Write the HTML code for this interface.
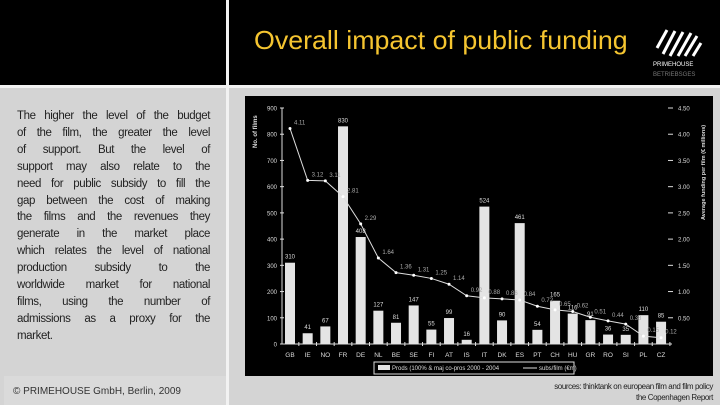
<!DOCTYPE html>
<html><head><meta charset="utf-8"><style>
body{margin:0;width:720px;height:405px;background:#d4d4d4;position:relative;overflow:hidden;font-family:"Liberation Sans",sans-serif}
.abs{position:absolute}
#para{left:17px;top:108px;width:193px;font-size:11.5px;line-height:16.9px;color:#222;letter-spacing:-0.4px}
#para div{text-align:justify;text-align-last:justify;white-space:nowrap;overflow:visible}
#para div.last{text-align-last:left}
</style></head><body>
<div class="abs" style="left:0;top:0;width:720px;height:85px;background:#000"></div>
<div class="abs" style="left:0;top:85px;width:720px;height:3px;background:#f2f2f2"></div>
<div class="abs" style="left:226px;top:0;width:3px;height:405px;background:#f2f2f2"></div>
<div class="abs" style="left:254px;top:25px;font-size:26px;color:#f5c530;white-space:nowrap;transform:scaleX(1.03);transform-origin:left">Overall impact of public funding</div>
<div class="abs" style="left:653px;top:28px;width:52px;height:55px">
<svg width="52" height="55"><g stroke="#fff" stroke-width="3"><line x1="4" y1="20" x2="14" y2="2"/><line x1="10" y1="26" x2="22" y2="3"/><line x1="17" y1="28" x2="30" y2="4"/><line x1="25" y1="28" x2="38" y2="5"/><line x1="32" y1="28" x2="44" y2="8"/><line x1="40" y1="28" x2="48" y2="15"/></g>
<text x="0" y="38" font-size="6" fill="#fff" font-family="Liberation Sans">PRIMEHOUSE</text><text x="0" y="48" font-size="6" fill="#777" font-family="Liberation Sans">BETRIEBSGES</text></svg></div>
<div class="abs" id="para">
<div>The higher the level of the budget</div>
<div>of the film, the greater the level</div>
<div>of support. But the level of</div>
<div>support may also relate to the</div>
<div>need for public subsidy to fill the</div>
<div>gap between the cost of making</div>
<div>the films and the revenues they</div>
<div>generate in the market place</div>
<div>which relates the level of national</div>
<div>production subsidy to the</div>
<div>worldwide market for national</div>
<div>films, using the number of</div>
<div>admissions as a proxy for the</div>
<div class="last">market.</div>
</div>
<div class="abs" style="left:4px;top:376px;width:222px;height:29px;background:#dadada"></div>
<div class="abs" style="left:13px;top:386px;font-size:10px;color:#333">© PRIMEHOUSE GmbH, Berlin, 2009</div>
<div class="abs" style="right:7px;top:381px;font-size:8px;line-height:11px;color:#222;text-align:right;letter-spacing:-0.4px">sources: thinktank on european film and film policy<br>the Copenhagen Report</div>
<svg class="abs" style="left:0;top:0" width="720" height="405">
<rect x="245" y="96" width="468" height="280" fill="#000"/>
<g id="g" font-family="Liberation Sans" font-size="7" fill="#ddd"></g>
</svg>
<script>
const cats=["GB","IE","NO","FR","DE","NL","BE","SE","FI","AT","IS","IT","DK","ES","PT","CH","HU","GR","RO","SI","PL","CZ"];
const films=[310,41,67,830,408,127,81,147,55,99,16,524,90,461,54,165,116,91,36,35,110,85];
const subsidy=[4.11,3.12,3.11,2.81,2.29,1.64,1.36,1.31,1.25,1.14,0.92,0.88,0.86,0.84,0.72,0.65,0.62,0.51,0.44,0.38,0.15,0.12];
const leftTicks=[0,100,200,300,400,500,600,700,800,900];
const rightTicks=[0.5,1,1.5,2,2.5,3,3.5,4,4.5];
const NS="http://www.w3.org/2000/svg",g=document.getElementById('g');
const x0=290,dx=17.67,yb=344,yt=108;
const xs=i=>x0+i*dx, yl=v=>yb-(yb-yt)*v/900, yr=v=>yb-(yb-yt)*v/4.5;
function el(t,a,txt){const e=document.createElementNS(NS,t);for(const k in a)e.setAttribute(k,a[k]);if(txt!=null)e.textContent=txt;g.appendChild(e);return e;}
let e=el('line',{x1:282,y1:yt,x2:282,y2:yb,stroke:'#ddd'});

e=el('line',{x1:282,y1:yb,x2:672,y2:yb,stroke:'#ddd'});

leftTicks.forEach(v=>{e=el('text',{x:277,y:yl(v)+2.5,'text-anchor':'end','font-size':6},v);

el('line',{x1:280,y1:yl(v),x2:284,y2:yl(v),stroke:'#ddd'});});
rightTicks.forEach(v=>{e=el('text',{x:678,y:yr(v)+2.5,'font-size':6},v.toFixed(2));

el('line',{x1:668,y1:yr(v),x2:673,y2:yr(v),stroke:'#ddd'});});
cats.forEach((c,i)=>{
e=el('rect',{x:xs(i)-5,y:yl(films[i]),width:10,height:yb-yl(films[i]),fill:'#e4e4e4'});

e=el('text',{x:xs(i),y:yl(films[i])-4,'text-anchor':'middle','font-size':6},films[i]);

e=el('text',{x:xs(i),y:357,'text-anchor':'middle','font-size':6.5},c);

el('line',{x1:xs(i)+dx/2,y1:yb-2,x2:xs(i)+dx/2,y2:yb+2,stroke:'#ddd'});
});
e=el('polyline',{points:subsidy.map((v,i)=>xs(i)+','+yr(v)).join(' '),fill:'none',stroke:'#ddd','stroke-width':1});

subsidy.forEach((v,i)=>{
e=el('circle',{cx:xs(i),cy:yr(v),r:1.5,fill:'#fff'});

e=el('text',{x:xs(i)+4,y:yr(v)-4,'font-size':6,fill:'#aaa'},v.toFixed(2));

});
e=el('text',{x:0,y:0,transform:'translate(257,148) rotate(-90)','font-size':6,'font-weight':'bold'},'No. of films');

e=el('text',{x:0,y:0,transform:'translate(705,220) rotate(-90)','font-size':5.5,'font-weight':'bold'},'Average funding per film (€ millions)');

e=el('rect',{x:374,y:362,width:200,height:12,fill:'none',stroke:'#ddd'});

el('rect',{x:378,y:365,width:12,height:5,fill:'#e4e4e4'});
e=el('text',{x:392,y:370,'font-size':6},'Prods (100% & maj co-pros 2000 - 2004');

el('line',{x1:523,y1:368,x2:537,y2:368,stroke:'#ddd'});
e=el('text',{x:539,y:370,'font-size':6},'subs/film (€m)');

</script>
</body></html>
